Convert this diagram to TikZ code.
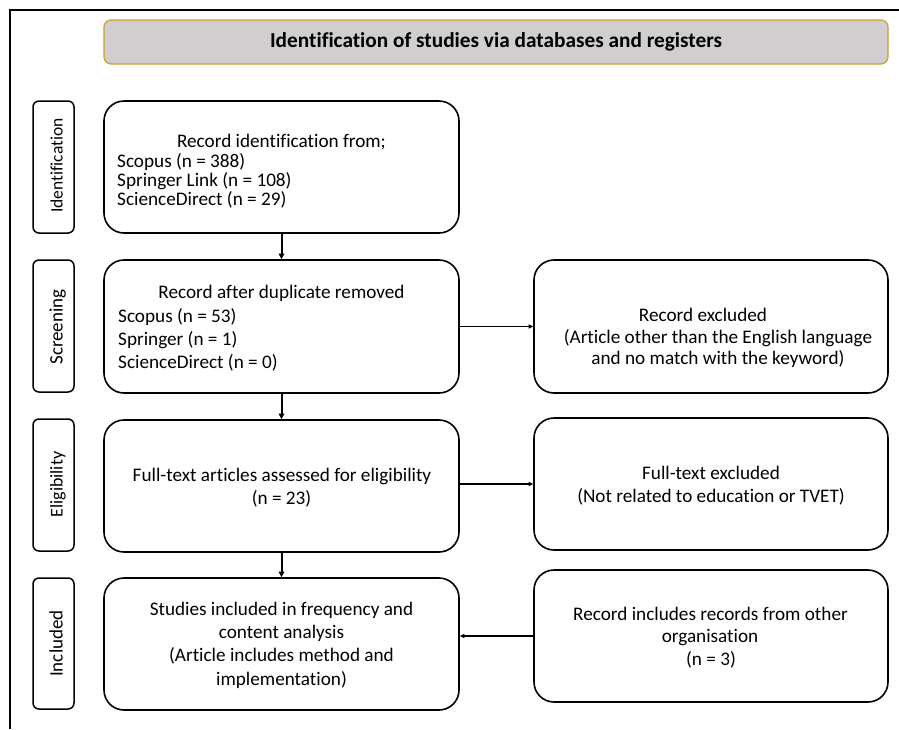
\documentclass[tikz,border=0pt]{standalone}
\usepackage{fontspec}
\setmainfont{Carlito}[Ligatures={NoCommon}]
\usetikzlibrary{arrows.meta}
\definecolor{hdrfill}{RGB}{208,206,206}
\definecolor{hdrline}{RGB}{204,160,40}
\begin{document}
\begin{tikzpicture}[x=1pt,y=-1pt,
  box/.style={draw=black, line width=1.6pt, rounded corners=20pt, inner sep=0pt},
  side/.style={draw=black, line width=1.5pt, rounded corners=6pt, inner sep=0pt, minimum width=41pt},
  txt/.style={inner sep=0pt, anchor=base, font=\fontsize{19.2}{23}\selectfont},
  ltxt/.style={txt, anchor=base west},
  sidetxt/.style={inner sep=0pt, rotate=90, anchor=base},
  varr/.style={line width=2pt, -{Triangle[length=5.5pt,width=5.5pt]}},
  harr/.style={line width=1.1pt, -{Triangle[length=4.5pt,width=4pt]}}
]
\useasboundingbox (0,0) rectangle (899,729);
\coordinate (fbl) at (10,729);
\coordinate (ftl) at (10,10);
\coordinate (ftr) at (899,10);
\draw[line width=2.2pt] (fbl) -- (ftl) -- (ftr);

% header
\node[draw=hdrline, fill=hdrfill, line width=1.2pt, rounded corners=7pt,
      minimum width=784pt, minimum height=44pt, inner sep=0pt,
      font=\bfseries\fontsize{21.3}{25}\selectfont] (hdr) at (496,42)
      {Identification of studies via databases and registers};

% side labels
\node[side, minimum height=132pt] (sid) at (53.5,167) {};
\node[side, minimum height=132pt] (ssc) at (53.5,326) {};
\node[side, minimum height=132pt] (sel) at (53.5,485) {};
\node[side, minimum height=131pt] (sin) at (53.5,643.5) {};
\node[sidetxt, font=\fontsize{17.5}{20}\selectfont] (sidt) at (62.5,165.5) {Identification};
\node[sidetxt, font=\fontsize{19}{22}\selectfont] (ssct) at (62.5,327) {Screening};
\node[sidetxt, font=\fontsize{18}{21}\selectfont] (selt) at (62.5,484.5) {Eligibility};
\node[sidetxt, font=\fontsize{19}{22}\selectfont] (sint) at (62.5,643.5) {Included};

% main boxes
\node[box, minimum width=355pt, minimum height=132pt] (idb) at (281.5,167) {};
\node[box, minimum width=355pt, minimum height=133pt] (scr) at (281.5,326.5) {};
\node[box, minimum width=355pt, minimum height=132pt] (elig) at (281.5,486) {};
\node[box, minimum width=355pt, minimum height=132pt] (inc) at (281.5,644) {};
\node[box, minimum width=354pt, minimum height=133pt] (rexc) at (711,326.5) {};
\node[box, minimum width=354pt, minimum height=132pt] (fexc) at (711,484) {};
\node[box, minimum width=354pt, minimum height=132pt] (rinc) at (711,636) {};

% texts
\node[txt] (id1) at (281.5,147.3) {Record identification from;};
\node[ltxt] (id2) at (117,167.3) {Scopus (n = 388)};
\node[ltxt] (id3) at (117,186.7) {Springer Link (n = 108)};
\node[ltxt] (id4) at (117,205) {ScienceDirect (n = 29)};

\node[txt] (sc1) at (281.5,298.3) {Record after duplicate removed};
\node[ltxt] (sc2) at (118,322.7) {Scopus (n = 53)};
\node[ltxt] (sc3) at (118,345.7) {Springer (n = 1)};
\node[ltxt] (sc4) at (118,368.3) {ScienceDirect (n = 0)};

\node[txt] (el1) at (282,481) {Full-text articles assessed for eligibility};
\node[txt] (el2) at (281.5,504) {(n = 23)};

\node[txt] (in1) at (281.5,615) {Studies included in frequency and};
\node[txt] (in2) at (281.5,638.7) {content analysis};
\node[txt] (in3) at (281.5,661.7) {(Article includes method and};
\node[txt] (in4) at (281.5,685) {implementation)};

\node[txt] (re1) at (703,321.7) {Record excluded};
\node[txt] (re2) at (718,343.3) {(Article other than the English language};
\node[txt] (re3) at (718,364.3) {and no match with the keyword)};

\node[txt] (fe1) at (711,479) {Full-text excluded};
\node[txt] (fe2) at (711,502.3) {(Not related to education or TVET)};

\node[txt] (ri1) at (710.5,620) {Record includes records from other};
\node[txt] (ri2) at (710,642.7) {organisation};
\node[txt] (ri3) at (711,665) {(n = 3)};

% arrows
\draw[varr] (idb.south) -- (scr.north);
\draw[varr] (scr.south) -- (elig.north);
\draw[varr] (elig.south) -- (inc.north);
\draw[harr] (scr.east) -- (rexc.west);
\draw[harr] (fexc.west -| elig.east) -- (fexc.west);
\draw[harr] (rinc.west) -- (rinc.west -| inc.east);
\end{tikzpicture}
\end{document}
